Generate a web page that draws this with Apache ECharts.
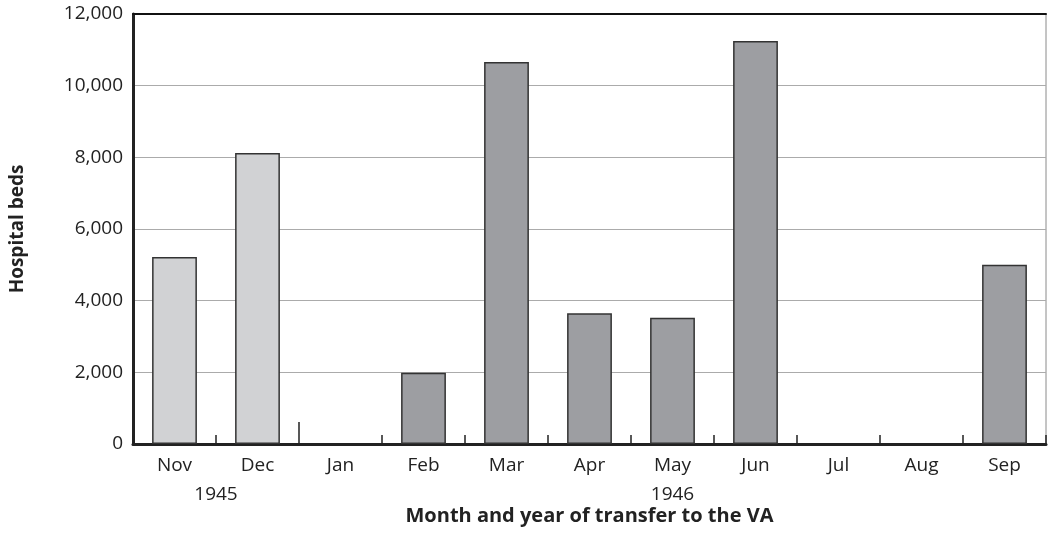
<!DOCTYPE html>
<html lang="en">
<head>
    <meta charset="UTF-8">
    <title>Hospital beds transferred to the VA</title>
    <script src="https://cdn.jsdelivr.net/npm/echarts@6/dist/echarts.min.js"></script>
</head>
<body style="margin:0">
<div id="echarts" style="width: 1049px;height:540px"></div>
<script>
    // data
    var months = ['Nov', 'Dec', 'Jan', 'Feb', 'Mar', 'Apr', 'May', 'Jun', 'Jul', 'Aug', 'Sep'];
    var beds1945 = [5220, 8120, '-', '-', '-', '-', '-', '-', '-', '-', '-'];
    var beds1946 = ['-', '-', '-', 1990, 10660, 3650, 3520, 11250, '-', '-', 5000];
    var yearLabels = {1: '1945', 6.5: '1946'};
    var yTicks = [0, 2000, 4000, 6000, 8000, 10000, 12000];

    var font = 'Open Sans';
    var chartDom = document.getElementById('echarts');
    var myChart = echarts.init(chartDom);
    var option;

    option = {
        animation: false,
        textStyle: {fontFamily: font},
        grid: {
            left: 132, right: 1, top: 14, bottom: 96,
            show: true, borderColor: '#8a8a8a', borderWidth: 1
        },
        xAxis: [
            {
                // month axis
                type: 'category',
                data: months,
                position: 'bottom',
                name: 'Month and year of transfer to the VA',
                nameLocation: 'middle',
                nameGap: 62,
                nameTextStyle: {fontFamily: font, fontWeight: 'bold', fontSize: 20, color: '#222'},
                axisLine: {lineStyle: {color: '#222', width: 3}},
                axisTick: {show: true, inside: true, length: 9, interval: 0, lineStyle: {color: '#222', width: 1.5}},
                axisLabel: {fontSize: 19, color: '#222', margin: 12, interval: 0},
                splitLine: {show: false}
            },
            {
                // year labels
                type: 'value',
                min: 0, max: 11, interval: 0.5,
                position: 'bottom',
                axisLine: {show: false},
                axisTick: {show: false},
                splitLine: {show: false},
                axisLabel: {
                    fontSize: 19, color: '#222', margin: 41,
                    formatter: function (v) { return yearLabels[v] || ''; }
                }
            },
            {
                // year separator tick
                type: 'value',
                min: 0, max: 11,
                position: 'bottom',
                axisLine: {show: false},
                axisTick: {show: true, inside: true, length: 22, customValues: [2], lineStyle: {color: '#222', width: 1.5}},
                axisLabel: {show: false},
                splitLine: {show: false}
            },
            {
                // top frame
                type: 'category',
                data: months,
                position: 'top',
                axisLine: {lineStyle: {color: '#111', width: 2}},
                axisTick: {show: false},
                axisLabel: {show: false}
            }
        ],
        yAxis: {
            type: 'value',
            min: 0, max: 12000, interval: 2000,
            name: 'Hospital beds',
            nameLocation: 'middle',
            nameGap: 106,
            nameTextStyle: {fontFamily: font, fontWeight: 'bold', fontSize: 19, color: '#222'},
            axisLine: {show: true, lineStyle: {color: '#222', width: 3}},
            axisTick: {show: false},
            axisLabel: {
                fontSize: 19, color: '#222', margin: 10,
                formatter: function (v) { return yTicks.indexOf(v) >= 0 ? v.toLocaleString('en-US') : ''; }
            },
            splitLine: {lineStyle: {color: '#ababab', width: 1.2}}
        },
        series: [
            {
                name: '1945',
                type: 'bar',
                stack: 'beds',
                barWidth: '54%',
                data: beds1945,
                itemStyle: {color: '#d1d2d4', borderColor: '#333', borderWidth: 1.5}
            },
            {
                name: '1946',
                type: 'bar',
                stack: 'beds',
                barWidth: '54%',
                data: beds1946,
                itemStyle: {color: '#9d9ea2', borderColor: '#333', borderWidth: 1.5}
            }
        ]
    };

    option && myChart.setOption(option);
</script>
</body>
</html>
